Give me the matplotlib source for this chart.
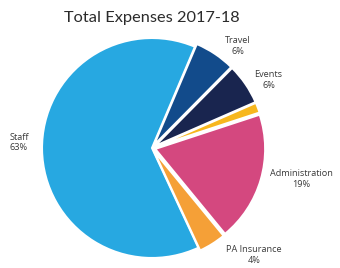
import matplotlib
matplotlib.use("Agg")
import matplotlib.pyplot as plt

categories = ["Staff", "PA Insurance", "Administration", "Other", "Events", "Travel"]
values = [63, 4, 19, 1.5, 6, 6]
pct_labels = ["63%", "4%", "19%", "", "6%", "6%"]
colors = ["#27a8e1", "#f5a037", "#d4487f", "#f7b71e", "#19254f", "#124b8b"]
explode = [0.0, 0.03, 0.03, 0.03, 0.03, 0.03]

# label centre positions (in pie radius units)
label_pos = [(-1.21, 0.05), (0.93, -0.97), (1.36, -0.28), None, (1.06, 0.62), (0.78, 0.93)]

fig = plt.figure(figsize=(3.4, 2.68), dpi=100)
ax = fig.add_axes([(152 - 110) / 340, (268 - 148 - 110) / 268, 220 / 340, 220 / 268])

wedges, _ = ax.pie(values, colors=colors, startangle=67, counterclock=True,
                   explode=explode, radius=1.0,
                   wedgeprops=dict(edgecolor="white", linewidth=1.5))
for w in wedges:
    w.set_clip_on(False)

ax.set_xlim(-1, 1)
ax.set_ylim(-1, 1)
ax.set_aspect("equal")
ax.axis("off")

for cat, pct, pos in zip(categories, pct_labels, label_pos):
    if pos is None:
        continue
    ax.text(pos[0], pos[1], f"{cat}\n{pct}", ha="center", va="center",
            fontsize=6.6, color="#3a3a3a", family="Open Sans", linespacing=1.25,
            clip_on=False)

fig.text(152 / 340, 1 - 18 / 268, "Total Expenses 2017-18", ha="center", va="center",
         fontsize=11.8, color="#2b2b2b", family="Lato")

fig.savefig("out.png", dpi=100)
